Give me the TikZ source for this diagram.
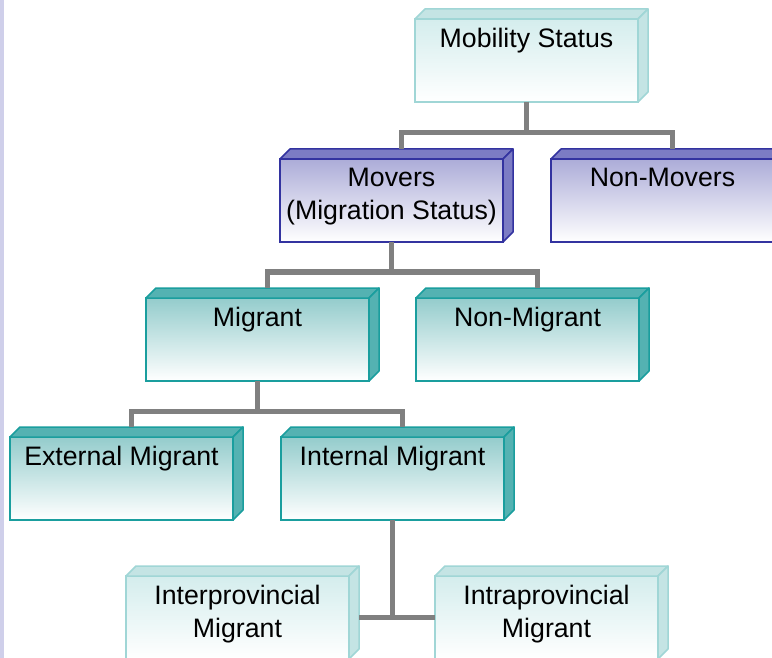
\documentclass[tikz,border=0pt]{standalone}
\usepackage{fontspec}
\setmainfont{Liberation Sans}
\usetikzlibrary{calc}

\definecolor{paleline}{RGB}{160,214,214}
\definecolor{paletop}{RGB}{212,237,237}
\definecolor{paleside}{RGB}{196,228,228}
\definecolor{lavline}{RGB}{51,51,160}
\definecolor{lavtop}{RGB}{172,172,216}
\definecolor{lavside}{RGB}{124,124,196}
\definecolor{tealline}{RGB}{26,158,158}
\definecolor{tealtop}{RGB}{148,204,204}
\definecolor{tealside}{RGB}{84,178,178}
\definecolor{linkgray}{RGB}{128,128,128}
\definecolor{stripcol}{RGB}{207,207,234}

\begin{document}
\begin{tikzpicture}[x=1pt, y=-1pt,
    box/.style = {rectangle, anchor=north west, inner sep=0pt, outer sep=0pt,
      line width=1.5pt, minimum width=223pt, minimum height=83pt, bottom color=white},
    pale/.style = {box, draw=paleline, top color=paletop},
    lav/.style = {box, draw=lavline, top color=lavtop},
    teal/.style = {box, draw=tealline, top color=tealtop},
    pale face/.style = {draw=paleline, fill=paleside, line width=1.5pt, line join=round},
    lav face/.style = {draw=lavline, fill=lavside, line width=1.5pt, line join=round},
    teal face/.style = {draw=tealline, fill=tealside, line width=1.5pt, line join=round},
    txt/.style = {anchor=north, yshift=-9pt, align=center, inner sep=0pt,
      font=\fontsize{26.7}{33}\selectfont},
    link/.style = {draw=linkgray, line width=5pt}]
  \path[use as bounding box, fill=white] (0,0) rectangle (772,658);
  \fill[stripcol] (0,0) rectangle (4,658);

  % the boxes, front faces
  \node[pale, label={[txt]north:Mobility Status}] (mob) at (415,19) {};
  \node[lav, label={[txt]north:Movers\\(Migration Status)}] (mov) at (280,159) {};
  \node[lav, label={[txt]north:Non-Movers}] (nmv) at (551,159) {};
  \node[teal, label={[txt]north:Migrant}] (mig) at (146,298) {};
  \node[teal, label={[txt]north:Non-Migrant}] (nmg) at (416,298) {};
  \node[teal, label={[txt]north:External Migrant}] (ext) at (10,437) {};
  \node[teal, label={[txt]north:Internal Migrant}] (int) at (281,437) {};
  \node[pale, label={[txt]north:Interprovincial\\Migrant}] (ipr) at (126,576) {};
  \node[pale, label={[txt]north:Intraprovincial\\Migrant}] (itr) at (435,576) {};

  % top and side faces
  \foreach \n/\s in {mob/pale, mov/lav, nmv/lav, mig/teal, nmg/teal,
                     ext/teal, int/teal, ipr/pale, itr/pale} {
    \draw[\s\space face] (\n.north west) -- ++(10,-10)
      -- ($(\n.north east)+(10,-10)$) -- (\n.north east) -- cycle;
    \draw[\s\space face] (\n.north east) -- ++(10,-10)
      -- ($(\n.south east)+(10,-10)$) -- (\n.south east) -- cycle;
    \coordinate (\n-t) at ($(\n.north)+(10,-10)$);
  }

  % connectors
  \draw[link] (mob.south) |- ($(mov-t)+(0,-16)$) -- (mov-t);
  \draw[link] (mob.south) |- ($(nmv-t)+(0,-16)$) -- (nmv-t);
  \draw[link] (mov.south) |- ($(mig-t)+(0,-16)$) -- (mig-t);
  \draw[link] (mov.south) |- ($(nmg-t)+(0,-16)$) -- (nmg-t);
  \draw[link] (mig.south) |- ($(ext-t)+(0,-16)$) -- (ext-t);
  \draw[link] (mig.south) |- ($(int-t)+(0,-16)$) -- (int-t);
  \draw[link] ($(ipr.east)+(10,0)$) -- (itr.west);
  \draw[link] (int.south) -- (int.south |- itr.west);
\end{tikzpicture}
\end{document}
